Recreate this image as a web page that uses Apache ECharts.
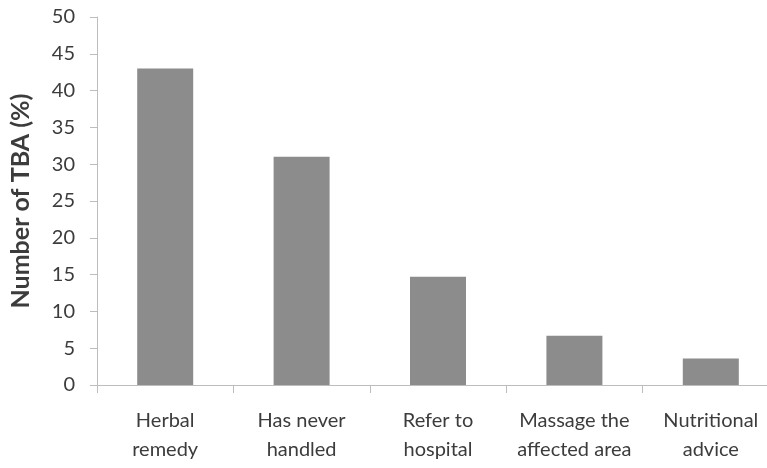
<!DOCTYPE html>
<html>
<head>
<meta charset="utf-8">
<script src="https://cdn.jsdelivr.net/npm/echarts@6/dist/echarts.min.js"></script>
<style>
  html, body { margin: 0; padding: 0; background: #fff; overflow: hidden; }
  #wrap { width: 767px; height: 468px; overflow: hidden; }
  /* the plot runs slightly past the right edge of the page */
  #chart { width: 790px; height: 468px; }
</style>
</head>
<body>
<div id="wrap"><div id="chart"></div></div>
<script>
// Responses of traditional birth attendants (TBA), in percent
const categories = [
  'Herbal\nremedy',
  'Has never\nhandled',
  'Refer to\nhospital',
  'Massage the\naffected area',
  'Nutritional\nadvice'
];
const values = [43, 31, 14.7, 6.7, 3.6];
const yTicks = { min: 0, max: 50, interval: 5 };

const chart = echarts.init(document.getElementById('chart'));
const axisColor = '#bdbdbd';
const textColor = '#3c3c3c';
const fontFamily = 'Lato, "Liberation Sans", sans-serif';

chart.setOption({
  animation: false,
  grid: { left: 96, top: 17, width: 683, height: 368 },
  xAxis: {
    type: 'category',
    data: categories,
    axisLine: { lineStyle: { color: axisColor, width: 1 } },
    axisTick: { show: true, length: 8, lineStyle: { color: axisColor } },
    axisLabel: {
      color: textColor, fontSize: 20, fontFamily: fontFamily,
      lineHeight: 29, margin: 21, interval: 0
    }
  },
  yAxis: {
    type: 'value',
    min: yTicks.min, max: yTicks.max, interval: yTicks.interval,
    name: 'Number of TBA (%)',
    nameLocation: 'middle',
    nameGap: 64,
    nameRotate: 90,
    nameTextStyle: { color: textColor, fontSize: 25, fontWeight: 'bold', fontFamily: fontFamily },
    axisLine: { show: true, lineStyle: { color: axisColor, width: 1 } },
    axisTick: { show: true, length: 7, lineStyle: { color: axisColor } },
    splitLine: { show: false },
    axisLabel: { color: textColor, fontSize: 20, fontFamily: fontFamily, margin: 22 }
  },
  series: [{
    type: 'bar',
    data: values,
    barWidth: 56,
    itemStyle: { color: '#8c8c8c' }
  }]
});
</script>
</body>
</html>
